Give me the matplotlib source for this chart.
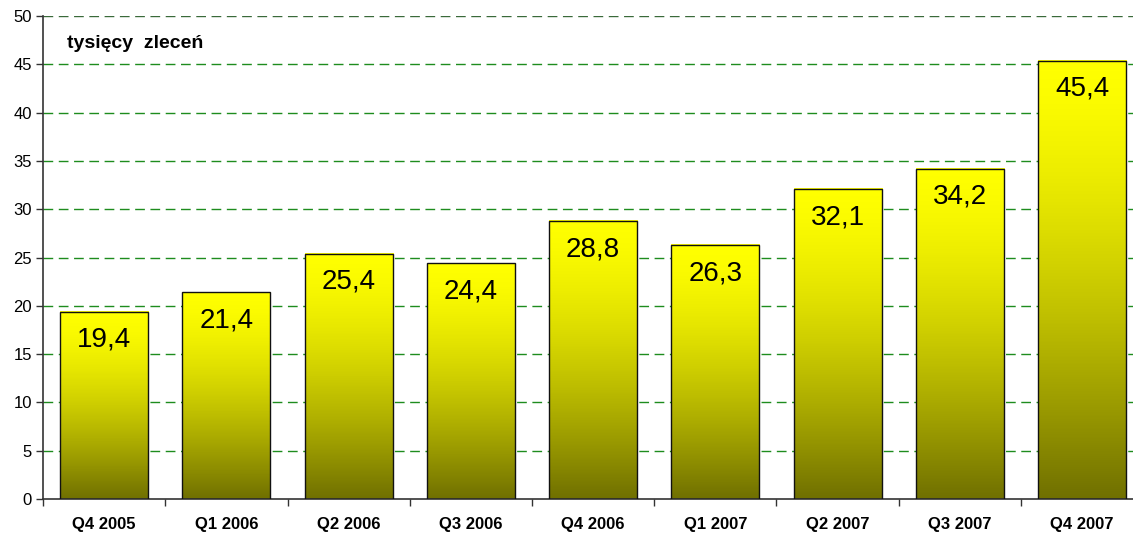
import numpy as np
import matplotlib
matplotlib.use('Agg')
import matplotlib.pyplot as plt
from matplotlib.colors import LinearSegmentedColormap

#------------------------------------------------------------------------------------
kwartaly = ['Q4 2005', 'Q1 2006', 'Q2 2006', 'Q3 2006', 'Q4 2006',
            'Q1 2007', 'Q2 2007', 'Q3 2007', 'Q4 2007']
zlecenia = [19.4, 21.4, 25.4, 24.4, 28.8, 26.3, 32.1, 34.2, 45.4]
etykiety = ['19,4', '21,4', '25,4', '24,4', '28,8', '26,3', '32,1', '34,2', '45,4']
#------------------------------------------------------------------------------------

plt.rcParams['font.family'] = ['Liberation Sans', 'DejaVu Sans']

fig = plt.figure(figsize=(11.33, 5.36), dpi=100)
ax = fig.add_axes([0.038, 0.069, 0.971, 0.901])

# gradient: jasny zolty na gorze, oliwkowy na dole
cm = LinearSegmentedColormap.from_list('zolty', ['#ffff00', '#707000'])
f = np.linspace(0, 1, 256) ** 1.5
grad = f.reshape(-1, 1)

w = 0.72
x = np.arange(len(kwartaly))
bars = ax.bar(x, zlecenia, width=w, color='none', edgecolor='#111111', linewidth=1.0, zorder=3)
for xi, v in zip(x, zlecenia):
  ax.imshow(grad, cmap=cm, vmin=0, vmax=1, aspect='auto', interpolation='bilinear',
            extent=[xi - w/2, xi + w/2, 0, v], origin='upper', zorder=2)

for xi, v, t in zip(x, zlecenia, etykiety):
  ax.annotate(t, (xi, v), xytext=(0, -11), textcoords='offset points',
              ha='center', va='top', fontsize=20, zorder=4)

ax.set_xlim(-0.5, len(kwartaly) - 0.5)
ax.set_ylim(0, 50)
ax.set_yticks(np.arange(0, 51, 5))
for yv in np.arange(5, 51, 5):
  c = '#3a6a3a' if yv == 50 else '#1e8c1e'
  ax.axhline(yv, color=c, linewidth=1.0, dashes=(7, 4), zorder=1)

ax.set_xticks(x)
ax.set_xticklabels(kwartaly, fontweight='bold', fontsize=12)
ax.set_xticks(np.arange(-0.5, len(kwartaly), 1), minor=True)
ax.tick_params(axis='x', which='major', length=0, pad=13)
ax.tick_params(axis='x', which='minor', length=5, width=1, color='#333333')
ax.tick_params(axis='y', length=5, width=1, color='#333333', labelsize=12, pad=3)

for s in ['top', 'right']:
  ax.spines[s].set_visible(False)
ax.spines['left'].set_color('#333333')
ax.spines['bottom'].set_color('#333333')
ax.spines['left'].set_linewidth(1.2)
ax.spines['bottom'].set_linewidth(1.2)

ax.text(0.022, 0.96, 'tysięcy  zleceń', transform=ax.transAxes, fontsize=14,
        fontweight='bold', ha='left', va='top')

fig.savefig('out.png', dpi=100)
